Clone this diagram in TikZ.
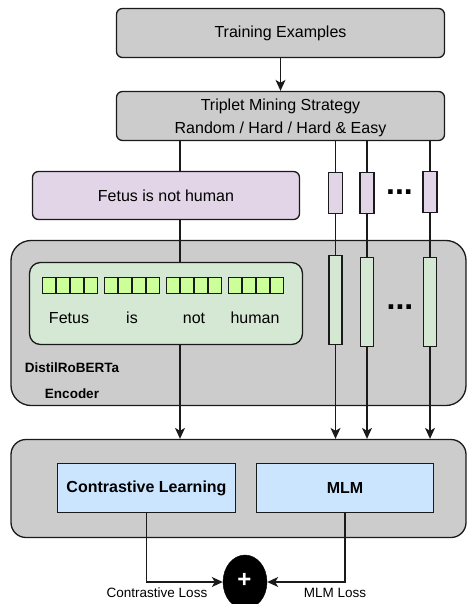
\documentclass[tikz,border=0pt]{standalone}
\usepackage{fontspec}
\setmainfont{Liberation Sans}
\usetikzlibrary{arrows.meta,shapes.geometric}

\definecolor{ln}{HTML}{1A1A1A}
\definecolor{grayfill}{HTML}{CCCCCC}
\definecolor{purplefill}{HTML}{E1D5E7}
\definecolor{greenfill}{HTML}{D5E8D4}
\definecolor{tokfill}{HTML}{CCFF99}
\definecolor{bluefill}{HTML}{CCE5FF}

\tikzset{
  x=1pt, y=-1pt,
  base/.style={draw=ln, line width=1.3pt, inner sep=0pt, align=center,
    font=\fontsize{16}{23}\selectfont},
  graybox/.style={base, fill=grayfill, rounded corners=6pt},
  sentbox/.style={base, fill=purplefill, rounded corners=6pt},
  vecp/.style={base, fill=purplefill, minimum width=14pt, minimum height=41pt},
  vecg/.style={base, fill=greenfill, minimum width=13pt, minimum height=89pt},
  tok/.style={draw=ln, line width=1.2pt, fill=tokfill, inner sep=0pt,
    minimum width=13pt, minimum height=16pt},
  word/.style={font=\fontsize{16}{20}\selectfont, inner sep=0pt},
  headbox/.style={base, fill=bluefill, font=\fontsize{16}{20}\selectfont\bfseries},
  dots/.style={font=\fontsize{32}{32}\selectfont\bfseries, inner sep=0pt},
  small/.style={font=\fontsize{13.5}{16}\selectfont, inner sep=0pt},
  conn/.style={draw=ln, line width=1.3pt},
  arr/.style={conn, -{Stealth[length=11pt, width=10pt, inset=3pt]}},
}

\begin{document}
\begin{tikzpicture}
\useasboundingbox (0,0) rectangle (467,604);
\clip (0,0) rectangle (467,604);

% top stage
\node[graybox, minimum width=328pt, minimum height=49pt] (train) at (280.5,33) {Training Examples};
\node[graybox, minimum width=328pt, minimum height=49pt] (trip) at (280.5,116) {};
\node[base, draw=none, fill=none] (triptext) at (280.5,118)
  {Triplet Mining Strategy\\Random / Hard / Hard \& Easy};

% anchor sentence and sampled inputs
\node[sentbox, minimum width=267pt, minimum height=48pt] (fetus) at (166,195.5) {Fetus is not human};
\node[vecp] (p1) at (335.5,193) {};
\node[vecp] (p2) at (367,193) {};
\node[vecp] (p3) at (430,192) {};
\node[dots] (dotsa) at (399.5,192) {...};

% encoder block
\node[base, fill=grayfill, rounded corners=20pt, minimum width=455pt, minimum height=165pt] (enc) at (238.5,323) {};
\node[base, fill=greenfill, rounded corners=11pt, minimum width=273pt, minimum height=82pt] (sent) at (166,303.5) {};

% token embeddings
\foreach \gx [count=\g] in {42,104,166,228}{
  \foreach \k in {0,1,2,3}{
    \node[tok] (t\g\k) at (\gx+7+\k*14,285.5) {};
  }
}
\node[word] (w1) at (69,318) {Fetus};
\node[word] (w2) at (132,318) {is};
\node[word] (w3) at (194,318) {not};
\node[word] (w4) at (255,318) {human};

\node[vecg] (g1) at (335.5,300) {};
\node[vecg] (g2) at (367,302) {};
\node[vecg] (g3) at (430,302) {};
\node[dots] (dotsb) at (400,307) {...};

\node[font=\fontsize{13.5}{26}\selectfont\bfseries, inner sep=0pt, align=center] (enclabel) at (72,381)
  {DistilRoBERTa\\Encoder};

% objective heads
\node[base, fill=grayfill, rounded corners=15pt, minimum width=455pt, minimum height=98pt] (heads) at (238.5,488.5) {};
\node[headbox, minimum width=178pt, minimum height=49pt] (cl) at (146.5,488) {Contrastive Learning};
\node[headbox, minimum width=177pt, minimum height=49pt] (mlm) at (345,488) {MLM};

\node[ellipse, fill=black, draw=black, minimum width=44pt, minimum height=54pt, inner sep=0pt] (plus) at (245,582) {};
\node[text=white, font=\fontsize{24}{24}\selectfont\bfseries, inner sep=0pt] (plussign) at (244.5,580) {+};

\node[small] (lcl) at (157,593) {Contrastive Loss};
\node[small] (lmlm) at (335,593) {MLM Loss};

% connectors
\coordinate (colx) at (180,0);
\draw[arr] (train) -- (trip);
\draw[conn] (colx |- trip.south) -- (colx |- fetus.north);
\draw[conn] (colx |- fetus.south) -- (colx |- sent.north);
\draw[arr] (colx |- sent.south) -- (colx |- heads.north);

\foreach \p/\g in {p1/g1,p2/g2,p3/g3}{
  \draw[conn] (\p |- trip.south) -- (\p.north);
  \draw[conn] (\p.south) -- (\g.north);
  \draw[arr] (\g.south) -- (\g |- heads.north);
}

\draw[arr] (cl.south) |- (plus.west);
\draw[arr] (mlm.south) |- (plus.east);
\end{tikzpicture}
\end{document}
